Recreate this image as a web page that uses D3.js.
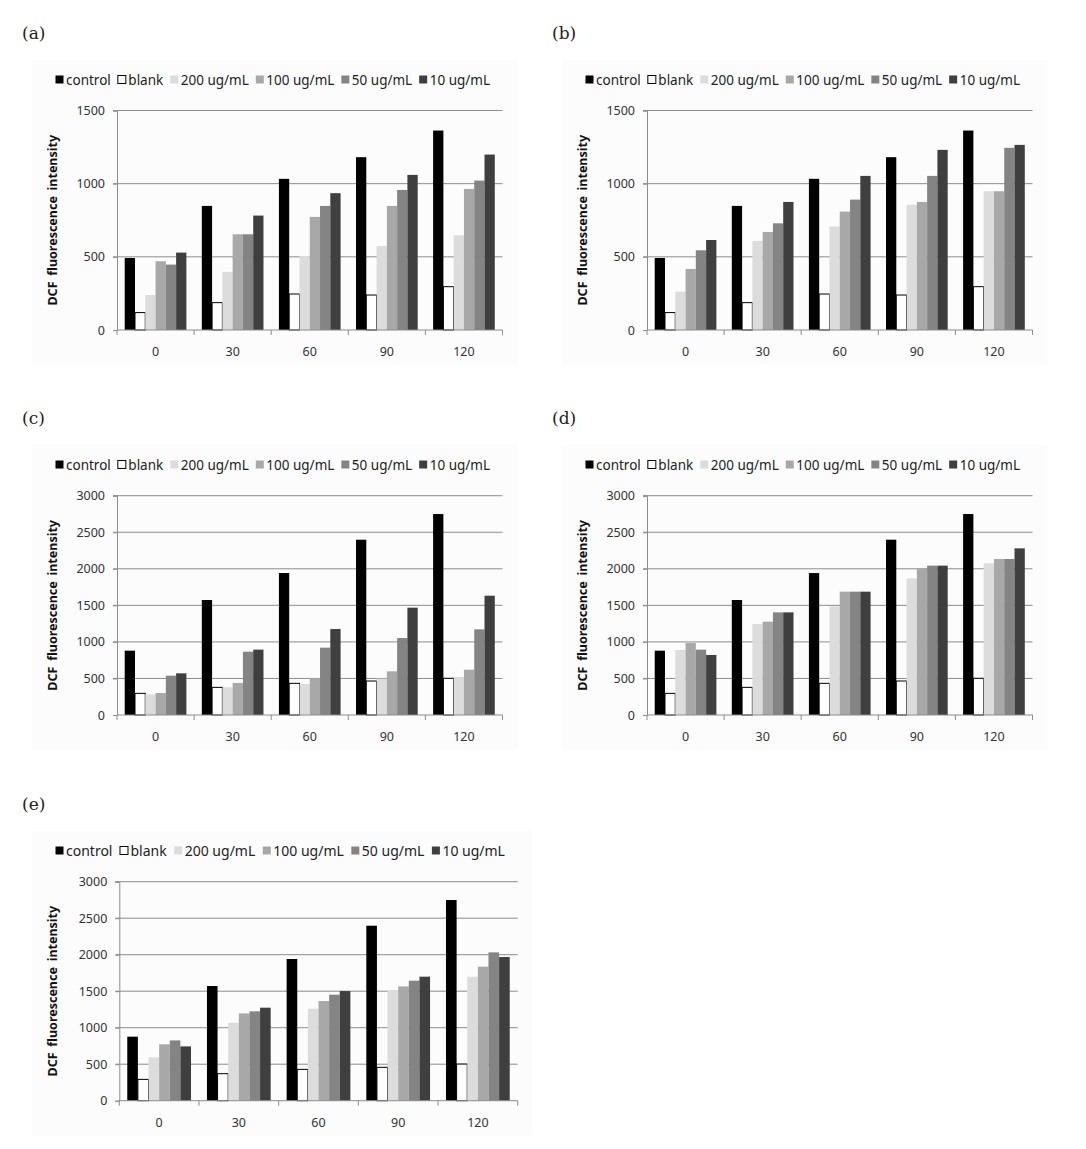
<!DOCTYPE html>
<html>
<head>
<meta charset="utf-8">
<script src="https://cdn.jsdelivr.net/npm/d3@7"></script>
<style>
  body { margin: 0; background: #fff; }
  text { font-family: "Noto Sans", "Open Sans", sans-serif; }
</style>
</head>
<body>
<div id="chart"></div>
<script>
// time points (min) and treatment series
var times = ["0", "30", "60", "90", "120"];
var series = ["control", "blank", "200 ug/mL", "100 ug/mL", "50 ug/mL", "10 ug/mL"];
var fills = ["#000000", "#ffffff", "#dcdcdc", "#a8a8a8", "#848484", "#3f3f3f"];

var ticksLow = [0, 500, 1000, 1500];
var ticksHigh = [0, 500, 1000, 1500, 2000, 2500, 3000];

// values read per series: [control, blank, 200, 100, 50, 10] for each time
var valuesA = [
  [492, 119, 239, 470, 447, 529],
  [848, 187, 397, 654, 654, 782],
  [1033, 246, 506, 773, 848, 935],
  [1181, 239, 574, 848, 957, 1060],
  [1363, 296, 647, 964, 1021, 1199]
];
var valuesB = [
  [492, 119, 262, 417, 545, 615],
  [848, 187, 609, 670, 729, 875],
  [1033, 246, 707, 809, 891, 1053],
  [1181, 239, 855, 875, 1053, 1231],
  [1363, 296, 948, 948, 1245, 1265]
];
var valuesC = [
  [880, 296, 283, 301, 538, 570],
  [1573, 378, 378, 438, 866, 894],
  [1942, 433, 424, 501, 921, 1176],
  [2398, 465, 497, 597, 1053, 1468],
  [2749, 502, 520, 620, 1172, 1632]
];
var valuesD = [
  [880, 296, 889, 985, 894, 821],
  [1573, 378, 1245, 1277, 1404, 1404],
  [1942, 433, 1486, 1687, 1687, 1687],
  [2398, 465, 1869, 2006, 2043, 2043],
  [2749, 502, 2074, 2134, 2134, 2280]
];
var valuesE = [
  [877, 292, 594, 772, 826, 744],
  [1571, 370, 1068, 1196, 1224, 1274],
  [1941, 429, 1260, 1365, 1452, 1502],
  [2397, 457, 1511, 1566, 1644, 1699],
  [2749, 502, 1699, 1836, 2032, 1968]
];

var svg = d3.select("#chart").append("svg")
    .attr("width", 1086)
    .attr("height", 1149);

function drawPanel(p) {
  var g = svg.append("g");

  // faint panel background
  g.append("rect")
      .attr("x", p.left + 10)
      .attr("y", p.legendY - 20)
      .attr("width", p.x1 - p.left + 5)
      .attr("height", p.y0 - p.legendY + 55)
      .attr("fill", "#fcfcfc");

  g.append("text")
      .attr("x", p.left)
      .attr("y", p.legendY - 41)
      .style("font-family", "'DejaVu Serif', 'Liberation Serif', serif")
      .style("font-size", "17px")
      .attr("fill", "#222")
      .text(p.label);

  var x = d3.scaleBand().domain(times).range([p.x0, p.x1]).padding(0);
  var pad = x.bandwidth() * 0.1;
  var xs = d3.scaleBand().domain(series).range([pad, x.bandwidth() - pad]).padding(0);
  var y = d3.scaleLinear().domain([0, p.max]).range([p.y0, p.yTop]);

  // gridlines
  g.selectAll(".grid")
      .data(p.ticks.slice(1))
      .enter().append("line")
      .attr("x1", p.x0 - 4)
      .attr("x2", p.x1)
      .attr("y1", function (d) { return y(d); })
      .attr("y2", function (d) { return y(d); })
      .attr("stroke", "#8c8c8c")
      .attr("stroke-width", 1);

  var yAxis = d3.axisLeft(y).tickValues(p.ticks).tickFormat(d3.format("d")).tickSize(4).tickPadding(8);
  var ya = g.append("g")
      .attr("transform", "translate(" + p.x0 + ",0)")
      .call(yAxis);
  ya.select(".domain").attr("stroke", "#8c8c8c");
  ya.selectAll(".tick line").attr("stroke", "#8c8c8c");
  ya.selectAll("text")
      .style("font-size", "12.5px")
      .attr("fill", "#333");

  // bars
  var groups = g.selectAll(".time")
      .data(p.values)
      .enter().append("g")
      .attr("transform", function (d, i) { return "translate(" + x(times[i]) + ",0)"; });

  groups.selectAll("rect")
      .data(function (d) { return d; })
      .enter().append("rect")
      .attr("x", function (d, j) { return xs(series[j]); })
      .attr("y", function (d) { return y(d); })
      .attr("width", xs.bandwidth())
      .attr("height", function (d) { return p.y0 - y(d); })
      .attr("fill", function (d, j) { return fills[j]; })
      .attr("stroke", function (d, j) { return j === 1 ? "#000" : "none"; })
      .attr("stroke-width", 1);

  // x axis with ticks at category boundaries
  var xa = g.append("g").attr("transform", "translate(0," + p.y0 + ")");
  xa.append("line")
      .attr("x1", p.x0).attr("x2", p.x1)
      .attr("stroke", "#8c8c8c");
  xa.selectAll(".bound")
      .data(d3.range(times.length + 1))
      .enter().append("line")
      .attr("x1", function (i) { return p.x0 + i * x.bandwidth(); })
      .attr("x2", function (i) { return p.x0 + i * x.bandwidth(); })
      .attr("y1", 0).attr("y2", 5)
      .attr("stroke", "#8c8c8c");
  xa.selectAll(".lab")
      .data(times)
      .enter().append("text")
      .attr("x", function (d) { return x(d) + x.bandwidth() / 2; })
      .attr("y", 26)
      .attr("text-anchor", "middle")
      .style("font-size", "12.5px")
      .attr("fill", "#333")
      .text(function (d) { return d; });

  // y title
  g.append("text")
      .attr("transform", "translate(" + (p.left + 35) + "," + ((p.y0 + p.yTop) / 2) + ") rotate(-90)")
      .attr("text-anchor", "middle")
      .style("font-size", "12.5px")
      .style("font-weight", "bold")
      .style("word-spacing", "2.5px")
      .attr("fill", "#111")
      .text("DCF fluorescence intensity");

  // legend
  var lx = p.left + 33;
  series.forEach(function (s, j) {
    g.append("rect")
        .attr("x", lx + 0.5)
        .attr("y", p.legendY - 4.5)
        .attr("width", p.sw)
        .attr("height", p.sw)
        .attr("fill", fills[j])
        .attr("stroke", j === 1 ? "#000" : "none");
    var t = g.append("text")
        .attr("x", lx + p.sw + 3)
        .attr("y", p.legendY + 4.5)
        .style("font-size", p.fs + "px")
        .attr("fill", "#222")
        .text(s);
    lx += p.sw + 3 + t.node().getComputedTextLength() + p.gap;
  });
}

drawPanel({ label: "(a)", left: 22, legendY: 80, x0: 117, x1: 502.5, y0: 330, yTop: 110.5, max: 1500, ticks: ticksLow, values: valuesA, fs: 13.5, sw: 8, gap: 6.5 });
drawPanel({ label: "(b)", left: 552, legendY: 80, x0: 647, x1: 1032.5, y0: 330, yTop: 110.5, max: 1500, ticks: ticksLow, values: valuesB, fs: 13.5, sw: 8, gap: 6.5 });
drawPanel({ label: "(c)", left: 22, legendY: 465, x0: 117, x1: 502.5, y0: 715, yTop: 495.7, max: 3000, ticks: ticksHigh, values: valuesC, fs: 13.5, sw: 8, gap: 6.5 });
drawPanel({ label: "(d)", left: 552, legendY: 465, x0: 647, x1: 1032.5, y0: 715, yTop: 495.7, max: 3000, ticks: ticksHigh, values: valuesD, fs: 13.5, sw: 8, gap: 6.5 });
drawPanel({ label: "(e)", left: 22, legendY: 851, x0: 119.3, x1: 517.7, y0: 1100.7, yTop: 881.7, max: 3000, ticks: ticksHigh, values: valuesE, fs: 14, sw: 8, gap: 7 });
</script>
</body>
</html>
